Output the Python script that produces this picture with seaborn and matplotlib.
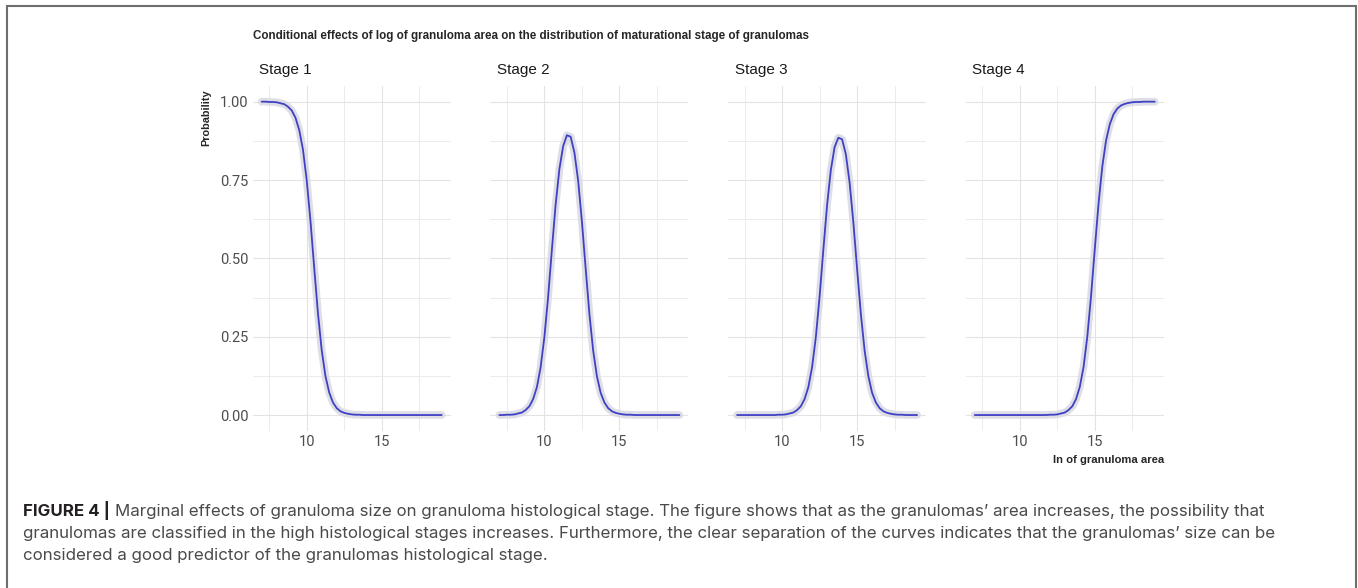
# -*- coding: utf-8 -*-
import matplotlib
matplotlib.use('Agg')
import matplotlib.pyplot as plt
from matplotlib.patches import Rectangle
import pandas as pd
import seaborn as sns

# x축 : ln of granuloma area
ln_area = [7.0, 7.25, 7.5, 7.75, 8.0, 8.25, 8.5, 8.75, 9.0, 9.25, 9.5, 9.75,
           10.0, 10.25, 10.5, 10.75, 11.0, 11.25, 11.5, 11.75, 12.0, 12.25, 12.5, 12.75,
           13.0, 13.25, 13.5, 13.75, 14.0, 14.25, 14.5, 14.75, 15.0, 15.25, 15.5, 15.75,
           16.0, 16.25, 16.5, 16.75, 17.0, 17.25, 17.5, 17.75, 18.0, 18.25, 18.5, 18.75, 19.0]

# 그림에서 읽은 단계별 확률
stage1 = [1.000, 1.000, 0.999, 0.999, 0.998, 0.995, 0.992, 0.984, 0.972, 0.949, 0.910, 0.847,
          0.750, 0.620, 0.470, 0.325, 0.207, 0.124, 0.072, 0.040, 0.022, 0.012, 0.007, 0.004,
          0.002, 0.001, 0.001, 0.000, 0.000, 0.000, 0.000, 0.000, 0.000, 0.000, 0.000, 0.000,
          0.000, 0.000, 0.000, 0.000, 0.000, 0.000, 0.000, 0.000, 0.000, 0.000, 0.000, 0.000, 0.000]
stage2 = [0.000, 0.000, 0.001, 0.001, 0.002, 0.005, 0.008, 0.016, 0.028, 0.051, 0.089, 0.153,
          0.249, 0.378, 0.528, 0.672, 0.785, 0.858, 0.893, 0.888, 0.838, 0.748, 0.618, 0.468,
          0.323, 0.206, 0.124, 0.071, 0.040, 0.022, 0.012, 0.007, 0.004, 0.002, 0.001, 0.001,
          0.000, 0.000, 0.000, 0.000, 0.000, 0.000, 0.000, 0.000, 0.000, 0.000, 0.000, 0.000, 0.000]
stage3 = [0.000, 0.000, 0.000, 0.000, 0.000, 0.000, 0.000, 0.000, 0.000, 0.000, 0.000, 0.001,
          0.001, 0.002, 0.005, 0.008, 0.016, 0.028, 0.051, 0.089, 0.153, 0.249, 0.378, 0.528,
          0.670, 0.782, 0.855, 0.885, 0.880, 0.832, 0.742, 0.615, 0.466, 0.323, 0.206, 0.124,
          0.071, 0.040, 0.022, 0.012, 0.007, 0.004, 0.002, 0.001, 0.001, 0.000, 0.000, 0.000, 0.000]
stage4 = [0.000, 0.000, 0.000, 0.000, 0.000, 0.000, 0.000, 0.000, 0.000, 0.000, 0.000, 0.000,
          0.000, 0.000, 0.000, 0.000, 0.000, 0.000, 0.000, 0.000, 0.001, 0.001, 0.002, 0.005,
          0.008, 0.016, 0.028, 0.051, 0.090, 0.153, 0.250, 0.380, 0.530, 0.675, 0.793, 0.876,
          0.928, 0.960, 0.978, 0.988, 0.993, 0.996, 0.998, 0.999, 0.999, 1.000, 1.000, 1.000, 1.000]

stages = ['Stage 1', 'Stage 2', 'Stage 3', 'Stage 4']
x_ticks = [10, 15]
x_minor = [7.5, 12.5, 17.5]
y_ticks = [0.00, 0.25, 0.50, 0.75, 1.00]
y_ticklabels = ['0.00', '0.25', '0.50', '0.75', '1.00']
y_minor = [0.125, 0.375, 0.625, 0.875]

title = 'Conditional effects of log of granuloma area on the distribution of maturational stage of granulomas'
caption = ['Marginal effects of granuloma size on granuloma histological stage. The figure shows that as the granulomas\u2019 area increases, the possibility that',
           'granulomas are classified in the high histological stages increases. Furthermore, the clear separation of the curves indicates that the granulomas\u2019 size can be',
           'considered a good predictor of the granulomas histological stage.']

df = pd.DataFrame({'ln_area': ln_area * 4,
                   'prob': stage1 + stage2 + stage3 + stage4,
                   'stage': [s for s in stages for _ in ln_area]})

sns.set_style("whitegrid")
plt.rcParams['font.family'] = ['Liberation Sans', 'DejaVu Sans']

W, H = 1358, 588
fig = plt.figure(figsize=(W / 100, H / 100), dpi=100)

# 패널 위치 (픽셀)
p_left, p_step, p_w, p_top, p_bot = 252.7, 237.7, 198.0, 86.0, 430.7

for i, st in enumerate(stages):
    ax = fig.add_axes([(p_left + i * p_step) / W, 1 - p_bot / H, p_w / W, (p_bot - p_top) / H])
    sub = df[df['stage'] == st]
    # 신뢰구간 띠 + 추정선
    sns.lineplot(data=sub, x='ln_area', y='prob', ax=ax, color='#dadbe4', linewidth=5.5, alpha=0.9)
    sns.lineplot(data=sub, x='ln_area', y='prob', ax=ax, color='#4040c4', linewidth=1.3)
    ax.set_xlim(6.4, 19.6)
    ax.set_ylim(-0.05, 1.05)
    ax.set_xticks(x_ticks)
    ax.set_xticks(x_minor, minor=True)
    ax.set_yticks(y_ticks)
    ax.set_yticks(y_minor, minor=True)
    if i == 0:
        ax.set_yticklabels(y_ticklabels)
    else:
        ax.set_yticklabels([])
    ax.set_xticklabels([str(t) for t in x_ticks])
    ax.tick_params(which='both', length=0, labelsize=10.5, labelcolor='#4d4d4d', pad=3.2)
    for lab in ax.get_xticklabels() + ax.get_yticklabels():
        lab.set_fontfamily(['Roboto', 'DejaVu Sans'])
    ax.grid(True, which='major', color='#e3e3e3', linewidth=0.8)
    ax.grid(True, which='minor', color='#ebebeb', linewidth=0.7)
    ax.set_axisbelow(True)
    for s in ax.spines.values():
        s.set_visible(False)
    ax.set_xlabel('')
    ax.set_ylabel('')
    ax.text(6.5 / p_w, 1 + 16 / (p_bot - p_top), st, transform=ax.transAxes,
            fontsize=11, color='#1a1a1a', ha='left', va='center')

fig.text(p_left / W, 1 - 36 / H, title, fontsize=8.4, fontweight='bold', ha='left', va='center')
fig.text(206.7 / W, 1 - 89 / H, 'Probability', fontsize=7.8, fontweight='bold',
         rotation=90, ha='center', va='top')
fig.text((p_left + 3 * p_step + p_w) / W, 1 - 460 / H, 'ln of granuloma area', fontsize=8.1,
         fontweight='bold', ha='right', va='center')

# 캡션 (첫 줄 폭을 그림에 맞춤)
cap_fs = 12.0
cap_font = ['Inter', 'DejaVu Sans']
cap_x0, cap_x1 = 22.7, 1268.0
base_y = [516, 538, 560]
t0 = fig.text(cap_x0 / W, 1 - base_y[0] / H, 'FIGURE 4 |', fontsize=cap_fs, fontweight='bold',
              color='#231f20', va='baseline', family=cap_font)
cap_texts = [fig.text(cap_x0 / W, 1 - y / H, line, fontsize=cap_fs, color='#4a4a4a',
                      va='baseline', family=cap_font)
             for line, y in zip(caption, base_y)]
fig.canvas.draw()
w_line1 = t0.get_window_extent().width + 5 + cap_texts[0].get_window_extent().width
cap_fs = cap_fs * (cap_x1 - cap_x0) / w_line1
t0.set_fontsize(cap_fs)
for t in cap_texts:
    t.set_fontsize(cap_fs)
fig.canvas.draw()
cap_texts[0].set_x((t0.get_window_extent().x1 + 5) / W)

# 바깥 테두리
fig.add_artist(Rectangle((7 / W, -0.1), (1356 - 7) / W, (H - 6) / H + 0.1, transform=fig.transFigure,
                         fill=False, edgecolor='#6e6e6e', linewidth=1.5, clip_on=False))

fig.savefig('out.png', dpi=100)
